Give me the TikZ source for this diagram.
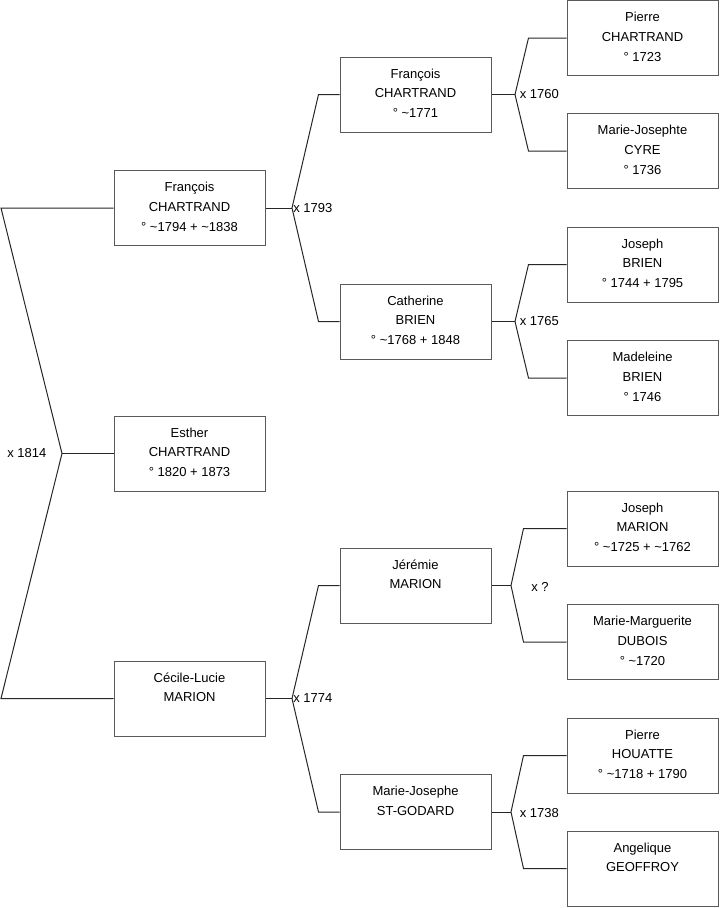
\documentclass[tikz,border=0pt]{standalone}
\usepackage{fontspec}
\setmainfont{Liberation Sans}
\definecolor{boxgray}{HTML}{5A5A5A}
\newcommand{\card}[1]{\parbox[c][56.25pt][t]{113.25pt}{\centering\fontsize{9.75}{14.7}\selectfont\rule{0pt}{16pt}#1}}
\newcommand{\ca}{\textasciitilde}

\begin{document}
\begin{tikzpicture}[x=0.75pt,y=-0.75pt,
  person/.style={draw=boxgray, line width=0.75pt, inner sep=0pt, fill=white},
  link/.style={line width=0.75pt, black!85},
  wed/.style={font=\fontsize{9.75}{12}\selectfont, inner sep=0pt, anchor=west}]
\useasboundingbox (0,0) rectangle (719,908);

% Esther and her parents
\node[person] (esther) at (189.5,453.5) {\card{Esther\\CHARTRAND\\° 1820 + 1873}};
\node[person] (fc1) at (189.5,208) {\card{François\\CHARTRAND\\° \ca1794 + \ca1838}};
\node[person] (cm) at (189.5,698.5) {\card{Cécile-Lucie\\MARION}};

% grandparents
\node[person] (fc2) at (415.5,94.5) {\card{François\\CHARTRAND\\° \ca1771}};
\node[person] (cb) at (415.5,321.5) {\card{Catherine\\BRIEN\\° \ca1768 + 1848}};
\node[person] (jm) at (415.5,585.5) {\card{Jérémie\\MARION}};
\node[person] (mj) at (415.5,812) {\card{Marie-Josephe\\ST-GODARD}};

% great-grandparents
\node[person] (pc) at (642.5,38) {\card{Pierre\\CHARTRAND\\° 1723}};
\node[person] (mjc) at (642.5,151) {\card{Marie-Josephte\\CYRE\\° 1736}};
\node[person] (jb) at (642.5,264.5) {\card{Joseph\\BRIEN\\° 1744 + 1795}};
\node[person] (mb) at (642.5,378) {\card{Madeleine\\BRIEN\\° 1746}};
\node[person] (jmar) at (642.5,528.5) {\card{Joseph\\MARION\\° \ca1725 + \ca1762}};
\node[person] (mmd) at (642.5,642) {\card{Marie-Marguerite\\DUBOIS\\° \ca1720}};
\node[person] (ph) at (642.5,755.5) {\card{Pierre\\HOUATTE\\° \ca1718 + 1790}};
\node[person] (ag) at (642.5,868.5) {\card{Angelique\\GEOFFROY}};

% marriages
\coordinate (l0) at (1,0);
\coordinate (w1814) at (62,453.5);
\coordinate (w1793) at (292,208);
\coordinate (w1774) at (292,698.5);
\coordinate (w1760) at (515,94.5);
\coordinate (w1765) at (515,321.5);
\coordinate (wq) at (511,585.5);
\coordinate (w1738) at (511,812);

\draw[link] (fc1.west) -- (fc1.west -| l0) -- (w1814) -- (cm.west -| l0) -- (cm.west);
\draw[link] (w1814) -- (esther.west);
\node[wed] (t1814) at (7,453.5) {x 1814};

\draw[link] (fc1.east) -- (w1793);
\draw[link] (fc2.west) -- ++(-21,0) -- (w1793) -- ([xshift=-15.75pt]cb.west) -- (cb.west);
\node[wed] (t1793) at (293,208) {x 1793};

\draw[link] (cm.east) -- (w1774);
\draw[link] (jm.west) -- ++(-21,0) -- (w1774) -- ([xshift=-15.75pt]mj.west) -- (mj.west);
\node[wed] (t1774) at (293,698.5) {x 1774};

\draw[link] (fc2.east) -- (w1760);
\draw[link] (pc.west) -- ++(-38,0) -- (w1760) -- ([xshift=-28.5pt]mjc.west) -- (mjc.west);
\node[wed] (t1760) at (519.5,94.5) {x 1760};

\draw[link] (cb.east) -- (w1765);
\draw[link] (jb.west) -- ++(-38,0) -- (w1765) -- ([xshift=-28.5pt]mb.west) -- (mb.west);
\node[wed] (t1765) at (519.5,321.5) {x 1765};

\draw[link] (jm.east) -- (wq);
\draw[link] (jmar.west) -- ++(-43,0) -- (wq) -- ([xshift=-32.25pt]mmd.west) -- (mmd.west);
\node[wed] (tq) at (531,587) {x ?};

\draw[link] (mj.east) -- (w1738);
\draw[link] (ph.west) -- ++(-43,0) -- (w1738) -- ([xshift=-32.25pt]ag.west) -- (ag.west);
\node[wed] (t1738) at (519.5,813) {x 1738};
\end{tikzpicture}
\end{document}
